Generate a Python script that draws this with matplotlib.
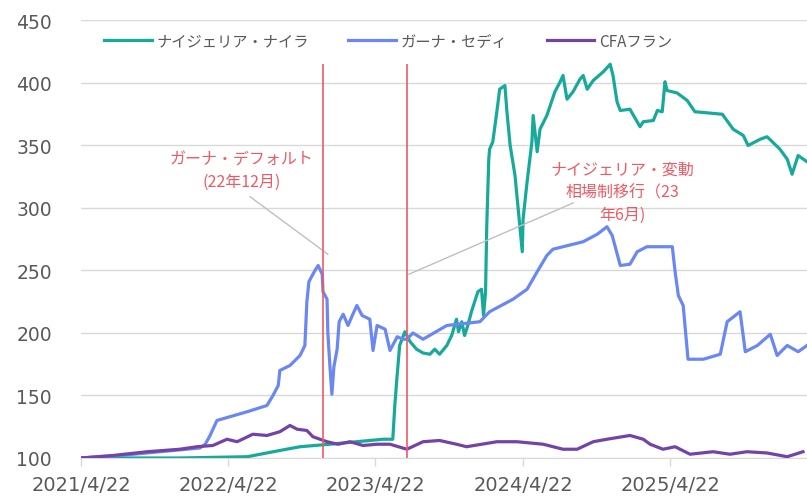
import matplotlib
matplotlib.use('Agg')
import matplotlib.pyplot as plt
import pandas as pd

plt.rcParams['font.family'] = ['Noto Sans CJK JP', 'DejaVu Sans']

# ── data (index, 2021/4/22 = 100) ─────────────────────────────────────────────
naira_dates = ['2021-04-22', '2021-12-23', '2022-06-08', '2022-08-28', '2022-10-17',
               '2022-12-30', '2023-05-11', '2023-06-04', '2023-06-09', '2023-06-14',
               '2023-06-21', '2023-07-04', '2023-07-17', '2023-08-02', '2023-08-18',
               '2023-09-04', '2023-09-16', '2023-09-28', '2023-10-16', '2023-10-28',
               '2023-11-09', '2023-11-14', '2023-11-22', '2023-11-29', '2023-12-07',
               '2023-12-16', '2023-12-24', '2024-01-01', '2024-01-10', '2024-01-15',
               '2024-01-20', '2024-01-23', '2024-01-28', '2024-01-30',
               '2024-02-07', '2024-02-17', '2024-02-24', '2024-03-08',
               '2024-03-13', '2024-03-21', '2024-04-02', '2024-04-10', '2024-04-20',
               '2024-04-22', '2024-05-02', '2024-05-14', '2024-05-17', '2024-05-27',
               '2024-06-03', '2024-06-20', '2024-07-10', '2024-07-23', '2024-07-30',
               '2024-08-09', '2024-08-24', '2024-09-10', '2024-09-18', '2024-09-28',
               '2024-10-13', '2024-11-07', '2024-11-24', '2024-12-01', '2024-12-11',
               '2024-12-19', '2025-01-12', '2025-02-06', '2025-02-14', '2025-03-11',
               '2025-03-21', '2025-04-02', '2025-04-09', '2025-04-14', '2025-05-09',
               '2025-06-03', '2025-06-22', '2025-08-29', '2025-09-25', '2025-10-20',
               '2025-11-01', '2025-12-01', '2025-12-18', '2026-01-19', '2026-02-06',
               '2026-02-18', '2026-03-05', '2026-03-27']
naira_vals = [100, 100, 101, 106, 109,
              111, 115, 115, 142, 163,
              190, 201, 193, 187, 184,
              183, 187, 183, 190, 198,
              211, 201, 209, 198, 206,
              217, 225, 233, 235, 214,
              233, 286, 339, 347,
              353, 377, 395, 398,
              377, 350, 326, 299, 265,
              291, 321, 353, 374, 345,
              363, 374, 393, 401, 406,
              387, 393, 403, 406, 395,
              402, 409, 415, 406, 385,
              378, 379, 365, 369, 370,
              378, 377, 401, 394, 392,
              386, 377, 375, 363, 358,
              350, 355, 357, 347, 339,
              327, 342, 337]

cedi_dates = ['2021-04-22', '2021-07-28', '2021-11-04', '2022-02-11', '2022-02-24',
              '2022-03-08', '2022-03-25', '2022-04-26', '2022-06-08', '2022-07-27',
              '2022-08-11', '2022-08-24', '2022-08-28', '2022-09-22', '2022-10-17',
              '2022-10-29', '2022-11-03', '2022-11-08', '2022-11-23', '2022-12-01',
              '2022-12-11', '2022-12-13', '2022-12-23', '2022-12-25', '2022-12-30',
              '2023-01-04', '2023-01-09', '2023-01-17', '2023-01-22', '2023-02-01',
              '2023-02-13', '2023-02-25', '2023-03-07', '2023-03-20', '2023-04-08',
              '2023-04-16', '2023-04-26', '2023-05-16', '2023-05-28', '2023-06-15',
              '2023-06-29', '2023-07-09', '2023-07-24', '2023-08-18', '2023-10-16',
              '2024-01-06', '2024-01-30', '2024-03-28', '2024-05-02', '2024-05-27',
              '2024-06-20', '2024-07-05', '2024-08-24', '2024-09-18', '2024-10-23',
              '2024-11-16', '2024-11-29', '2024-12-19', '2025-01-12', '2025-01-30',
              '2025-02-23', '2025-04-27', '2025-05-04', '2025-05-12', '2025-05-24',
              '2025-06-05', '2025-07-13', '2025-08-24', '2025-09-10', '2025-10-12',
              '2025-10-25', '2025-11-24', '2025-12-26', '2026-01-12', '2026-02-06',
              '2026-03-05', '2026-03-27']
cedi_vals = [100, 102, 105, 108, 111,
             118, 130, 133, 137, 142,
             150, 158, 170, 174, 182,
             190, 225, 241, 250, 254,
             247, 233, 227, 200, 174,
             151, 173, 187, 209, 215,
             206, 215, 222, 214, 211,
             186, 206, 203, 186, 197,
             195, 195, 200, 195, 206,
             209, 217, 227, 235, 249,
             262, 267, 271, 273, 279,
             285, 278, 254, 255, 265,
             269, 269, 249, 230, 222,
             179, 179, 183, 209, 217,
             185, 190, 199, 182, 190,
             185, 190]

cfa_dates = ['2021-04-22', '2021-07-10', '2021-10-03', '2021-12-23', '2022-02-03',
             '2022-03-15', '2022-04-19', '2022-05-14', '2022-06-22', '2022-07-27',
             '2022-08-28', '2022-09-22', '2022-10-10', '2022-11-03', '2022-11-18',
             '2022-12-23', '2023-01-19', '2023-02-18', '2023-03-22', '2023-04-26',
             '2023-05-28', '2023-07-09', '2023-08-18', '2023-09-28', '2023-11-09',
             '2023-12-04', '2024-02-17', '2024-04-07', '2024-06-11', '2024-07-30',
             '2024-09-03', '2024-10-13', '2024-11-16', '2025-01-12', '2025-02-14',
             '2025-03-03', '2025-04-04', '2025-05-04', '2025-06-10', '2025-08-06',
             '2025-09-17', '2025-10-29', '2025-12-18', '2026-02-06', '2026-03-17']
cfa_vals = [100, 102, 105, 107, 109,
            110, 115, 113, 119, 118,
            121, 126, 123, 122, 117,
            113, 111, 113, 110, 111,
            111, 107, 113, 114, 111,
            109, 113, 113, 111, 107,
            107, 113, 115, 118, 115,
            111, 107, 109, 103, 105,
            103, 105, 104, 101, 105]

SERIES = ['ナイジェリア・ナイラ', 'ガーナ・セディ', 'CFAフラン']
COLORS = ['#17AA9B', '#6A87F3', '#7443A6']

EVENT_DATES = ['2022-12-14', '2023-07-08']
EVENT_TOP = 415
NOTES = ['ガーナ・デフォルト\n(22年12月)', 'ナイジェリア・変動\n相場制移行（23\n年6月)']
NOTE_POS = [('2022-05-26', 330), ('2024-12-24', 313)]
LEADERS = [(('2022-06-15', 309), ('2022-12-25', 263)),
           (('2024-08-24', 304), ('2023-07-14', 247))]

X_TICKS = ['2021-04-22', '2022-04-22', '2023-04-22', '2024-04-22', '2025-04-22']
X_END = '2026-03-27'

RED = '#EE5A64'
GRID = '#D9D9D9'
TXT = '#595959'

# ── plot ──────────────────────────────────────────────────────────────────────
fig = plt.figure(figsize=(8.07, 5.02), dpi=100)
ax = fig.add_axes([0.1004, 0.0857, 0.8996, 0.8715])

for dates, vals, name, col in zip([naira_dates, cedi_dates, cfa_dates],
                                  [naira_vals, cedi_vals, cfa_vals], SERIES, COLORS):
    ax.plot(pd.to_datetime(dates), vals, color=col, lw=2.3, label=name,
            solid_joinstyle='round', zorder=3)

for d in EVENT_DATES:
    ax.vlines(pd.Timestamp(d), 100, EVENT_TOP, color=RED, lw=1.2, zorder=5)

for (p0, p1) in LEADERS:
    ax.plot(pd.to_datetime([p0[0], p1[0]]), [p0[1], p1[1]],
            color='#BFBFBF', lw=1, zorder=4)

for txt, (d, v) in zip(NOTES, NOTE_POS):
    ax.text(pd.Timestamp(d), v, txt, color=RED, fontsize=11.5, ha='center',
            va='center', linespacing=1.4, zorder=6)

ax.set_ylim(100, 450)
ax.set_yticks(range(100, 451, 50))
ax.set_xlim(pd.Timestamp(X_TICKS[0]), pd.Timestamp(X_END))
xt = pd.to_datetime(X_TICKS)
ax.set_xticks(xt)
ax.set_xticklabels([f'{d.year}/{d.month}/{d.day}' for d in xt],
                   fontfamily='DejaVu Sans', fontsize=14, color=TXT)
ax.set_yticklabels([str(v) for v in range(100, 451, 50)],
                   fontfamily='DejaVu Sans', fontsize=13.5, color=TXT)
ax.tick_params(axis='y', length=0, pad=21)
ax.tick_params(axis='x', length=6, color=GRID, width=1, pad=6)

ax.grid(axis='y', color=GRID, lw=1)
ax.set_axisbelow(True)
for s in ['top', 'right', 'left']:
    ax.spines[s].set_visible(False)
ax.spines['bottom'].set_color(GRID)

leg = ax.legend(loc='center', bbox_to_anchor=(0.423, 0.953), ncol=3,
                frameon=False, fontsize=11, handlelength=3.1,
                handletextpad=0.3, columnspacing=2.6)
for t in leg.get_texts():
    t.set_color(TXT)

plt.savefig('out.png', dpi=100, facecolor='white')
